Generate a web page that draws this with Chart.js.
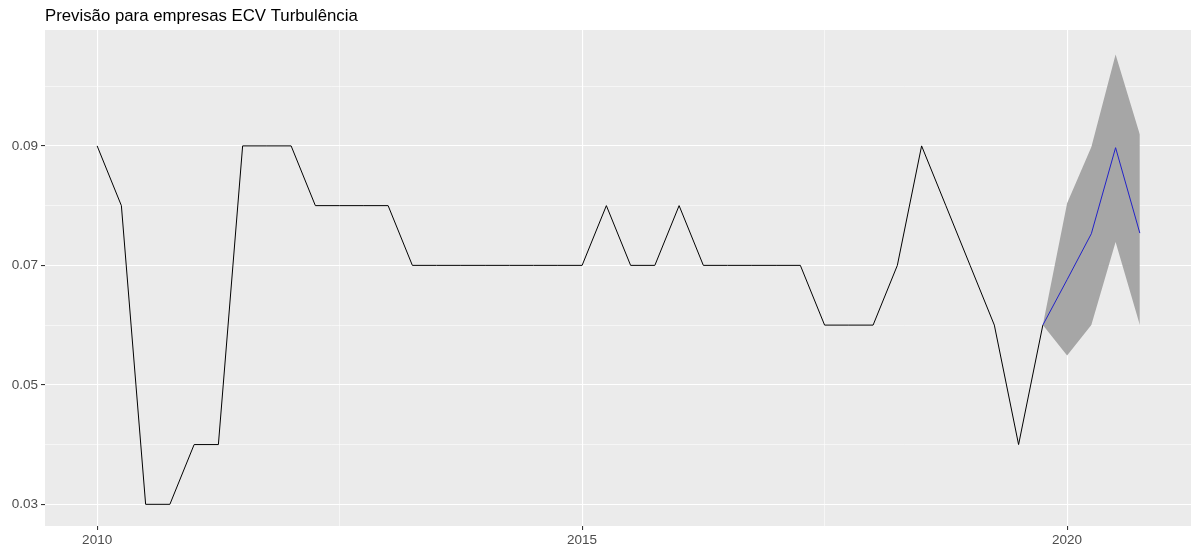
<!DOCTYPE html>
<html>
<head>
<meta charset="utf-8">
<script src="https://cdn.jsdelivr.net/npm/chart.js@4/dist/chart.umd.min.js"></script>
<style>
  body { margin: 0; background: #ffffff; }
  canvas { display: block; }
</style>
</head>
<body>
<canvas id="chart" width="1191" height="550"></canvas>
<script>
// {{{ data
const title = 'Previsão para empresas ECV Turbulência';
const startYear = 2010;
const observed = [
  0.09, 0.08, 0.03, 0.03,
  0.04, 0.04, 0.09, 0.09,
  0.09, 0.08, 0.08, 0.08,
  0.08, 0.07, 0.07, 0.07,
  0.07, 0.07, 0.07, 0.07,
  0.07, 0.08, 0.07, 0.07,
  0.08, 0.07, 0.07, 0.07,
  0.07, 0.07, 0.06, 0.06,
  0.06, 0.07, 0.09, 0.08,
  0.07, 0.06, 0.04, 0.06
];
const forecastTimes = [2019.75, 2020.0, 2020.25, 2020.5, 2020.75];
const forecastMean = [0.06, 0.0676, 0.0753, 0.0897, 0.0754];
const forecastLower = [0.06, 0.0549, 0.0600, 0.0739, 0.0600];
const forecastUpper = [0.06, 0.0804, 0.0898, 0.1053, 0.0919];
const xTicks = [2010, 2012.5, 2015, 2017.5, 2020];
const xLabels = {2010: '2010', 2015: '2015', 2020: '2020'};
const yTicks = [0.03, 0.04, 0.05, 0.06, 0.07, 0.08, 0.09, 0.10];
const yLabels = {0.03: '0.03', 0.05: '0.05', 0.07: '0.07', 0.09: '0.09'};
// }}}

// {{{ helpers
const key = (v) => String(Math.round(v * 10000) / 10000);
const xMajor = (v) => xLabels[key(v)] !== undefined;
const yMajor = (v) => yLabels[key(v)] !== undefined;
const pts = (xs, ys) => xs.map((x, i) => ({x: x, y: ys[i]}));
const observedPts = observed.map((v, i) => ({x: startYear + i / 4, y: v}));
// }}}

// {{{ plugins
const panel =
{
  id: 'panel',
  beforeDraw: (chart) =>
  {
    const a = chart.chartArea;
    const ctx = chart.ctx;
    ctx.save();
    ctx.fillStyle = '#ebebeb';
    ctx.fillRect(a.left, a.top, a.right - a.left, a.bottom - a.top);
    ctx.restore();
  },
  afterDraw: (chart) =>
  {
    const ctx = chart.ctx;
    ctx.save();
    ctx.fillStyle = '#000000';
    ctx.font = '16.8px "Liberation Sans", Arial, sans-serif';
    ctx.textBaseline = 'alphabetic';
    ctx.fillText(title, 45, 21);
    ctx.restore();
  }
};
// }}}

new Chart(document.getElementById('chart'),
{
  type: 'line',
  data:
  {
    datasets: [
      {data: observedPts, borderColor: '#000000', borderWidth: 1, pointRadius: 0, fill: false},
      {data: pts(forecastTimes, forecastMean), borderColor: '#2222c8', borderWidth: 1, pointRadius: 0, fill: false},
      {data: pts(forecastTimes, forecastLower), borderWidth: 0, borderColor: 'rgba(0,0,0,0)', pointRadius: 0, fill: false},
      {data: pts(forecastTimes, forecastUpper), borderWidth: 0, borderColor: 'rgba(0,0,0,0)', pointRadius: 0, fill: '-1', backgroundColor: '#a6a6a6'}
    ]
  },
  options:
  {
    responsive: false,
    animation: false,
    devicePixelRatio: 1,
    layout: {padding: {top: 30, right: 0, left: 0, bottom: 0}},
    plugins:
    {
      legend: {display: false},
      tooltip: {enabled: false},
      filler: {drawTime: 'beforeDatasetsDraw'}
    },
    elements: {line: {tension: 0}},
    scales:
    {
      x:
      {
        type: 'linear',
        min: 2009.4625,
        max: 2021.2775,
        afterBuildTicks: (s) => { s.ticks = xTicks.map((v) => ({value: v})); },
        afterFit: (s) => { s.height = 24; },
        border: {display: false},
        grid:
        {
          color: '#ffffff',
          lineWidth: (c) => xMajor(c.tick.value) ? 1.1 : 0.55,
          tickColor: (c) => xMajor(c.tick.value) ? '#333333' : 'rgba(0,0,0,0)',
          tickLength: 4,
          tickWidth: 1.1
        },
        ticks:
        {
          autoSkip: false,
          maxRotation: 0,
          padding: 2,
          color: '#4d4d4d',
          font: {family: '"Liberation Sans", Arial, sans-serif', size: 13.5},
          callback: (v) => xLabels[key(v)] || ''
        }
      },
      y:
      {
        type: 'linear',
        min: 0.02637,
        max: 0.1094,
        afterBuildTicks: (s) => { s.ticks = yTicks.map((v) => ({value: v})); },
        afterFit: (s) => { s.width = 45; },
        border: {display: false},
        grid:
        {
          color: '#ffffff',
          lineWidth: (c) => yMajor(c.tick.value) ? 1.1 : 0.55,
          tickColor: (c) => yMajor(c.tick.value) ? '#333333' : 'rgba(0,0,0,0)',
          tickLength: 4,
          tickWidth: 1.1
        },
        ticks:
        {
          autoSkip: false,
          padding: 3,
          color: '#4d4d4d',
          font: {family: '"Liberation Sans", Arial, sans-serif', size: 13.5},
          callback: (v) => yLabels[key(v)] || ''
        }
      }
    }
  },
  plugins: [panel]
});
</script>
</body>
</html>
